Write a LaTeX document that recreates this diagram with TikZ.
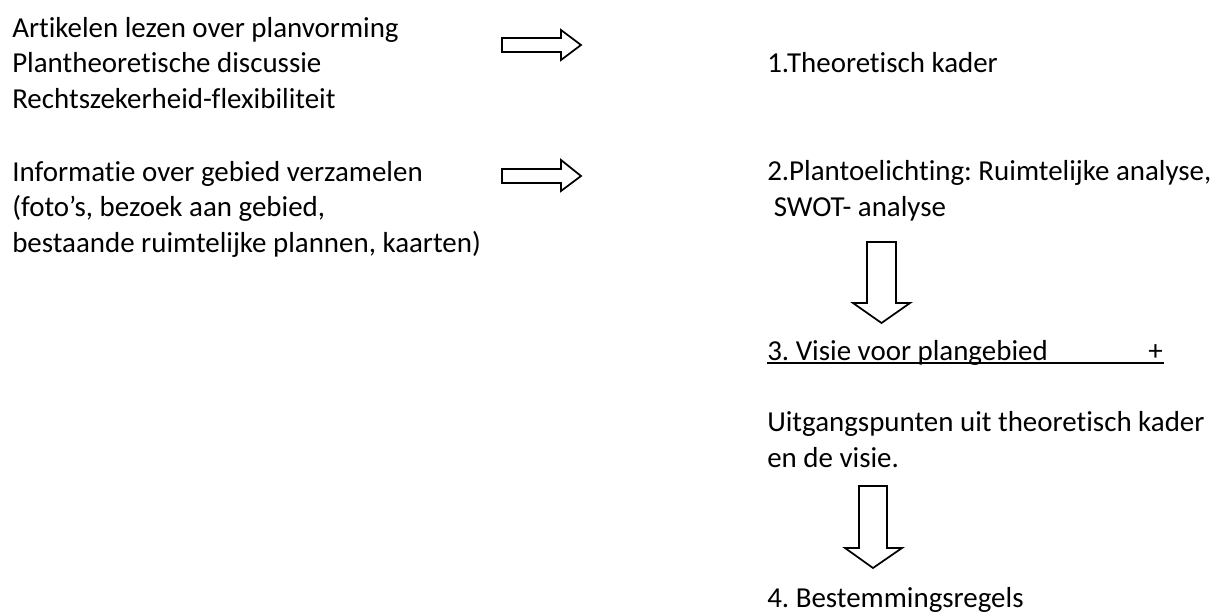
\documentclass[tikz,border=0pt]{standalone}
\usepackage{fontspec}
\setmainfont{Carlito}[Ligatures = NoCommon]
\frenchspacing

\begin{document}
\begin{tikzpicture}[x=0.75pt, y=-0.75pt]
    \tikzstyle{every node} = [inner sep = 0pt, anchor = base west, align = left,
      font = \fontsize{21.7pt}{26.5pt}\selectfont];
    \tikzstyle{blockarrow} = [draw, line width = 1.3pt, line join = miter, fill = white];
    \useasboundingbox (0,0) rectangle (1219,615);
    \node (lit) at (12,108) {Artikelen lezen over planvorming\\Plantheoretische discussie\\Rechtszekerheid-flexibiliteit};
    \node (info) at (12,252) {Informatie over gebied verzamelen\\(foto’s, bezoek aan gebied,\\bestaande ruimtelijke plannen, kaarten)};
    \node (kader) at (767,72.5) {1.Theoretisch kader};
    \node (toel) at (767,216) {2.Plantoelichting: Ruimtelijke analyse,\\ \ SWOT- analyse};
    \node (visie) at (767,360) {3. Visie voor plangebied};
    \node (plus) at (1148,360) {+};
    \node (uitg) at (767,467) {Uitgangspunten uit theoretisch kader\\en de visie.};
    \node (regels) at (767,607) {4. Bestemmingsregels};
    \draw[line width = 1.5pt] ([yshift = -2.3pt]visie.base west) -- ([yshift = -2.3pt, xshift = 1pt]plus.base east);
    \draw[blockarrow] (502,38) -- (561,38) -- (561,30) -- (581,45) -- (561,60) -- (561,52) -- (502,52) -- cycle;
    \draw[blockarrow] (502,169) -- (561,169) -- (561,160) -- (581,176) -- (561,191) -- (561,183) -- (502,183) -- cycle;
    \draw[blockarrow] (867,242) -- (896,242) -- (896,303) -- (910,303) -- (881.5,323) -- (853,303) -- (867,303) -- cycle;
    \draw[blockarrow] (859,486) -- (887,486) -- (887,548) -- (902,548) -- (873,568) -- (845,548) -- (859,548) -- cycle;
\end{tikzpicture}
\end{document}
